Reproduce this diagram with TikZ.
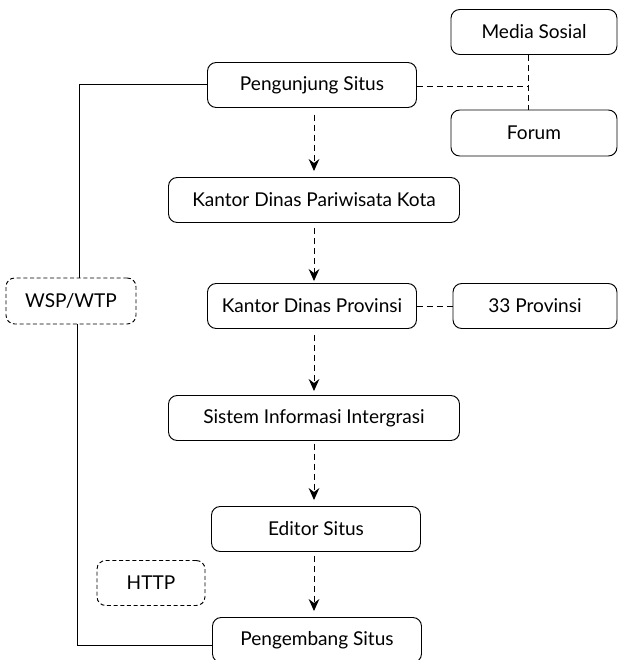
\documentclass[tikz,border=0pt]{standalone}
\usepackage{fontspec}
\setmainfont{Lato}
\usetikzlibrary{arrows.meta}
\tikzset{
	kotak/.style={
		draw,
		rounded corners=6.5pt,
		line width=0.7pt,
		minimum height=33.75pt,
		align=center,
		inner sep=0pt,
		font=\fontsize{14.3pt}{16pt}\selectfont
	},
	kotakputus/.style={
		kotak,
		dash pattern=on 3pt off 2pt
	},
	putus/.style={
		line width=0.7pt,
		dash pattern=on 4.5pt off 3pt
	},
	panah/.style={
		putus,
		-{Stealth[length=9pt,width=8pt,inset=3pt]}
	}
}
\begin{document}
\begin{tikzpicture}[x=0.75pt,y=-0.75pt]
	\useasboundingbox (0,0) rectangle (618,660);
	
	% kotak-kotak
	\node[kotak,minimum width=124.5pt] (media) at (534,32) {Media Sosial};
	\node[kotak,minimum width=124.5pt,minimum height=34.5pt] (forum) at (534,133) {Forum};
	\node[kotak,minimum width=156.75pt] (pengunjung) at (312,85) {Pengunjung Situs};
	\node[kotak,minimum width=218.25pt] (kota) at (314,200) {Kantor Dinas Pariwisata Kota};
	\node[kotak,minimum width=156.75pt] (provinsi) at (312,306) {Kantor Dinas Provinsi};
	\node[kotak,minimum width=123pt] (tiga) at (535,306) {33 Provinsi};
	\node[kotak,minimum width=218.25pt] (sistem) at (314,418) {Sistem Informasi Intergrasi};
	\node[kotak,minimum width=156.75pt] (editor) at (316,529) {Editor Situs};
	\node[kotak,minimum width=156.75pt] (pengembang) at (317,640) {Pengembang Situs};
	\node[kotakputus,minimum width=97.5pt,minimum height=34.5pt] (wsp) at (71,301) {WSP/WTP};
	\node[kotakputus,minimum width=81pt] (http) at (151,583) {HTTP};
	
	% garis putus-putus
	\coordinate (simpang) at (528,86);
	\draw[putus] (pengunjung.east |- simpang) -- (simpang);
	\draw[putus] (media.south -| simpang) -- (forum.north -| simpang);
	\draw[putus] (provinsi) -- (tiga);
	
	% panah
	\draw[panah] ([yshift=-5pt]kota.north |- pengunjung.south) -- ([yshift=4.5pt]kota.north);
	\draw[panah] ([yshift=-4pt]kota.south) -- ([yshift=1.5pt]kota.south |- provinsi.north);
	\draw[panah] ([yshift=-4.5pt]sistem.north |- provinsi.south) -- ([yshift=3pt]sistem.north);
	\draw[panah] ([yshift=-2pt]sistem.south) -- ([yshift=4.5pt]sistem.south |- editor.north);
	\draw[panah] ([yshift=-3pt]sistem.south |- editor.south) -- ([yshift=4.5pt]sistem.south |- pengembang.north);
	
	% garis kiri
	\draw[line width=0.7pt] ([yshift=0.75pt]pengunjung.west) -| ([xshift=6pt]wsp.north);
	\draw[line width=0.7pt] ([xshift=5pt]wsp.south) |- ([yshift=-3.75pt]pengembang.west);
	
\end{tikzpicture}
\end{document}
